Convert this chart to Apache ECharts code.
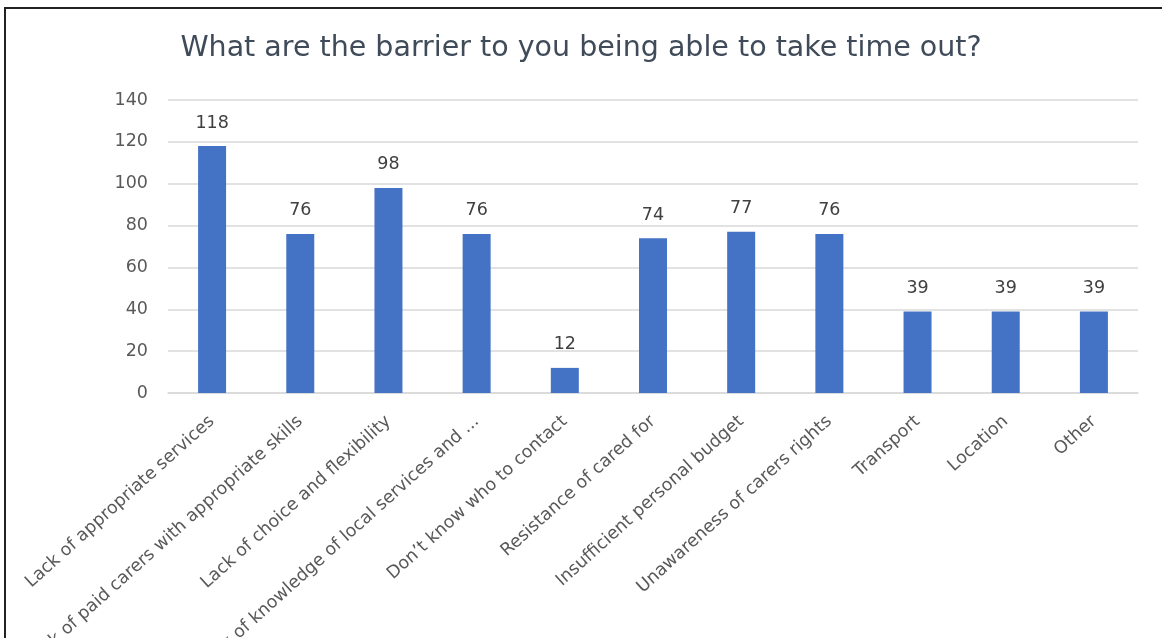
<!DOCTYPE html>
<html><head><meta charset="utf-8">
<script src="https://cdn.jsdelivr.net/npm/echarts@6/dist/echarts.min.js"></script>
<style>html,body{margin:0;padding:0;background:#fff}#c{width:1162px;height:638px}</style>
</head><body><div id="c"></div>
<script>
const titleText = "What are the barrier to you being able to take time out?";
const categories = [
  "Lack of appropriate services",
  "Lack of paid carers with appropriate skills",
  "Lack of choice and flexibility",
  "Lack of knowledge of local services and ...",
  "Don\u2019t know who to contact",
  "Resistance of cared for",
  "Insufficient personal budget",
  "Unawareness of carers rights",
  "Transport",
  "Location",
  "Other"
];
const values = [118, 76, 98, 76, 12, 74, 77, 76, 39, 39, 39];
const yTicks = {min: 0, max: 140, interval: 20};

const FONT = 'DejaVu Sans';
const chart = echarts.init(document.getElementById('c'), null, {renderer: 'canvas'});
chart.setOption({
  backgroundColor: '#fff',
  animation: false,
  title: {
    text: titleText, left: 'center', top: 29,
    textStyle: {fontFamily: FONT, fontSize: 28.5, fontWeight: 'normal', color: '#404b5a'}
  },
  graphic: [{
    type: 'polyline', silent: true,
    shape: {points: [[5, 660], [5, 8], [1170, 8]]},
    style: {stroke: '#222', lineWidth: 2, fill: null}
  }],
  grid: {left: 168, right: 24, top: 100, bottom: 245, containLabel: false, outerBoundsMode: 'none'},
  xAxis: {
    type: 'category', data: categories,
    axisTick: {show: false},
    axisLine: {lineStyle: {color: '#d9d9d9', width: 1.5}},
    axisLabel: {rotate: 42, interval: 0, margin: 26, color: '#595959', fontFamily: FONT, fontSize: 17.5}
  },
  yAxis: {
    type: 'value', min: yTicks.min, max: yTicks.max, interval: yTicks.interval,
    axisLine: {show: false}, axisTick: {show: false},
    splitLine: {lineStyle: {color: '#d9d9d9', width: 1.5}},
    axisLabel: {margin: 20, color: '#595959', fontFamily: FONT, fontSize: 17.5}
  },
  series: [{
    type: 'bar', data: values, barWidth: 28,
    itemStyle: {color: '#4472C4'},
    label: {show: true, position: 'top', distance: 14, color: '#404040', fontFamily: FONT, fontSize: 17.5}
  }]
});
</script></body></html>
